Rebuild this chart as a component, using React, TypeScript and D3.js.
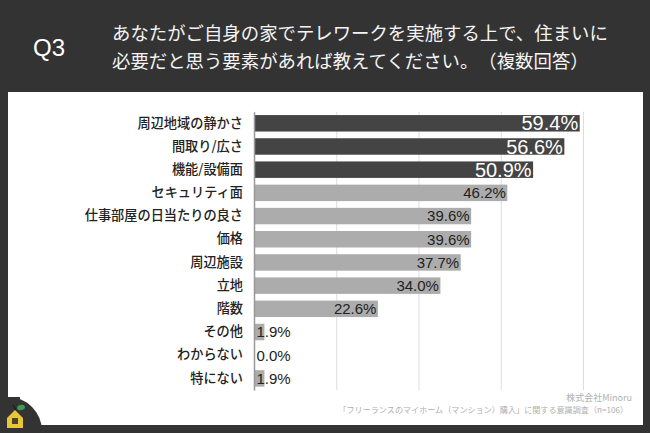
import React, { useRef, useEffect } from 'react';
import * as d3 from 'd3';

const categories = [
  '周辺地域の静かさ', '間取り/広さ', '機能/設備面', 'セキュリティ面', '仕事部屋の日当たりの良さ', '価格',
  '周辺施設', '立地', '階数', 'その他', 'わからない', '特にない',
];
const percents = [59.4, 56.6, 50.9, 46.2, 39.6, 39.6, 37.7, 34.0, 22.6, 1.9, 0.0, 1.9];
const xTicks = [0, 15, 30, 45, 60];
const highlighted = ['周辺地域の静かさ', '間取り/広さ', '機能/設備面'];
const titleLines = [
  'あなたがご自身の家でテレワークを実施する上で、住まいに',
  '必要だと思う要素があれば教えてください。（複数回答）',
];
const sourceLines = ['株式会社Minoru', '「フリーランスのマイホーム（マンション）購入」に関する意識調査（n=106）'];

const W = 650;
const H = 433;
const jpFont = '"Noto Sans CJK JP", "Noto Sans", sans-serif';
const numFont = '"Liberation Sans", Arial, sans-serif';

const App: React.FC = () => {
  const svgRef = useRef<SVGSVGElement | null>(null);

  useEffect(() => {
    const svg = d3.select(svgRef.current);
    svg.selectAll('*').remove();

    svg.append('rect').attr('width', W).attr('height', H).attr('fill', '#333333');
    svg.append('rect').attr('x', 8).attr('y', 92).attr('width', 635).attr('height', 333)
      .attr('fill', '#ffffff');

    // header
    svg.append('text').attr('x', 33).attr('y', 56).text('Q3')
      .attr('fill', '#fff').style('font-family', numFont).style('font-size', '24px');
    svg.append('g').selectAll('text').data(titleLines).enter().append('text')
      .attr('x', 112)
      .attr('y', (d, i) => 39.5 + i * 28)
      .attr('fill', '#f4f4f4')
      .style('font-family', jpFont)
      .style('font-size', '18.4px')
      .style('text-spacing-trim', 'space-all')
      .text(d => d);

    const x = d3.scaleLinear().domain([0, 60]).range([254, 583]);
    const y = d3.scaleBand().domain(categories).range([111.7, 390]).paddingInner(0.29).paddingOuter(0.145);

    // gridlines
    const grid = svg.append('g')
      .attr('transform', 'translate(0, 111.7)')
      .call(d3.axisBottom(x).tickValues(xTicks).tickSize(278.3).tickFormat(() => ''));
    grid.select('.domain').remove();
    grid.selectAll('line').attr('stroke', '#dddddd').attr('stroke-width', 1);

    svg.selectAll('.bar')
      .data(percents)
      .enter()
      .append('rect')
      .attr('x', x(0))
      .attr('y', (d, i) => y(categories[i])!)
      .attr('width', d => x(d) - x(0))
      .attr('height', y.bandwidth())
      .attr('fill', (d, i) => highlighted.includes(categories[i]) ? '#444444' : '#acacac');

    // category axis
    const yAxis = svg.append('g')
      .attr('transform', `translate(${x(0)}, 0)`)
      .call(d3.axisLeft(y).tickSize(0).tickPadding(11));
    yAxis.select('.domain').attr('stroke', '#999999').attr('stroke-width', 1.5);
    yAxis.selectAll('text')
      .attr('fill', '#222222')
      .style('font-family', jpFont)
      .style('font-weight', '500')
      .style('font-size', '13.2px');

    // value labels
    svg.selectAll('.value')
      .data(percents)
      .enter()
      .append('text')
      .attr('x', d => d < 5 ? x(0) + 2.5 : x(d) - 1.5)
      .attr('y', (d, i) => y(categories[i])! + y.bandwidth() / 2)
      .attr('dy', '0.36em')
      .attr('text-anchor', d => d < 5 ? 'start' : 'end')
      .attr('fill', (d, i) => highlighted.includes(categories[i]) ? '#ffffff' : '#222222')
      .style('font-family', numFont)
      .style('font-size', (d, i) => highlighted.includes(categories[i]) ? '20px' : '15px')
      .text(d => d3.format('.1f')(d) + '%');

    // source
    svg.append('text').attr('x', 632).attr('y', 401).attr('text-anchor', 'end').text(sourceLines[0])
      .attr('fill', '#b0b0b0').style('font-family', jpFont).style('font-size', '9px');
    svg.append('text').attr('x', 628).attr('y', 413).attr('text-anchor', 'end').text(sourceLines[1])
      .attr('fill', '#b0b0b0').style('font-family', jpFont).style('font-size', '8.1px')
      .style('text-spacing-trim', 'space-all');

    // logo corner
    const logo = svg.append('g');
    logo.append('rect').attr('x', 0).attr('y', 397).attr('width', 20).attr('height', 36).attr('fill', '#333333');
    logo.append('circle').attr('cx', 8).attr('cy', 431).attr('r', 34).attr('fill', '#333333');
    logo.append('path').attr('d', 'M7 418 L15 410 L23 418 L23 428 L7 428 Z').attr('fill', '#e8c53a');
    logo.append('rect').attr('x', 12).attr('y', 418).attr('width', 6).attr('height', 6).attr('fill', '#4a4420');
    logo.append('ellipse').attr('cx', 21).attr('cy', 407.5).attr('rx', 4).attr('ry', 2.6)
      .attr('transform', 'rotate(-15 21 407.5)').attr('fill', '#3f9a55');
    logo.append('path').attr('d', 'M13 405 L16 410').attr('stroke', '#111').attr('stroke-width', 1);
  }, []);

  return <svg ref={svgRef} width={W} height={H} style={{ position: 'absolute', left: 0, top: 0, display: 'block' }}></svg>;
};

export default App;
